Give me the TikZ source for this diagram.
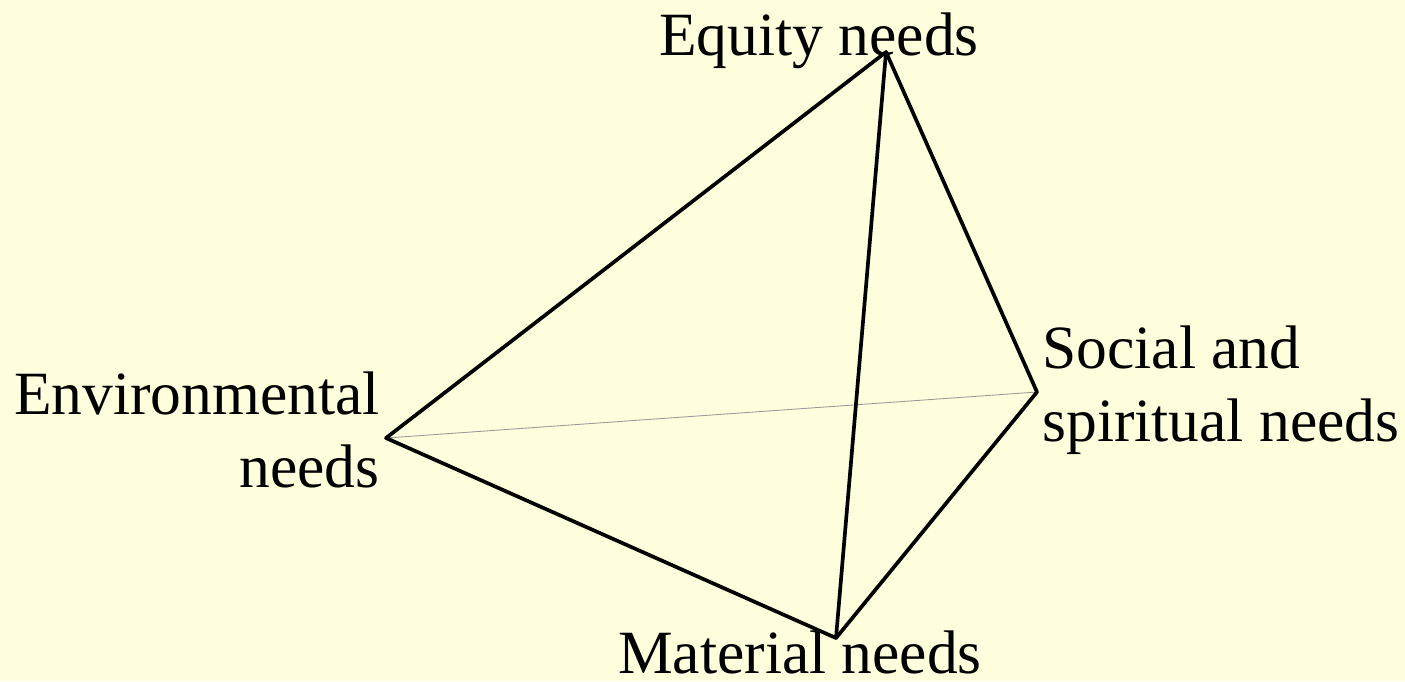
\documentclass[tikz,border=0pt]{standalone}
\usepackage{fontspec}
\setmainfont{Liberation Serif}
\usetikzlibrary{positioning}
\definecolor{figpaper}{HTML}{FFFFDD}
\definecolor{figink}{HTML}{000000}
\definecolor{fighidden}{HTML}{999999}

\begin{document}
\begin{tikzpicture}[
  x=0.02cm, y=-0.02cm,
  line cap=round, line join=round,
  edge/.style   = {draw=figink, line width=2.1pt},
  hidden/.style = {draw=fighidden, line width=0.5pt},
  lbl/.style    = {font=\fontsize{35}{42}\selectfont, color=figink, inner sep=0pt}
]
% 背景
\fill[figpaper] (0,0) rectangle (1405,681);
\useasboundingbox (0,0) rectangle (1405,681);

% 顶点
\coordinate (eq)  at (886,52);
\coordinate (soc) at (1037,392);
\coordinate (env) at (386,438);
\coordinate (mat) at (836,638);

% 标签
\node[lbl, anchor=base] (leq) at (819,55) {Equity needs};
\node[lbl, anchor=north west, align=left] (lsoc) at (1042,325) {Social and\\spiritual needs};
\node[lbl, anchor=north east, align=right] (lenv) at (380,371) {Environmental\\needs};
\node[lbl, anchor=base] (lmat) at (800,673) {Material needs};

% 隐藏棱
\draw[hidden] (env) -- (soc);
% 可见棱
\draw[edge] (eq) -- (env) -- (mat) -- (soc) -- cycle;
\draw[edge] (eq) -- (mat);

\end{tikzpicture}
\end{document}
